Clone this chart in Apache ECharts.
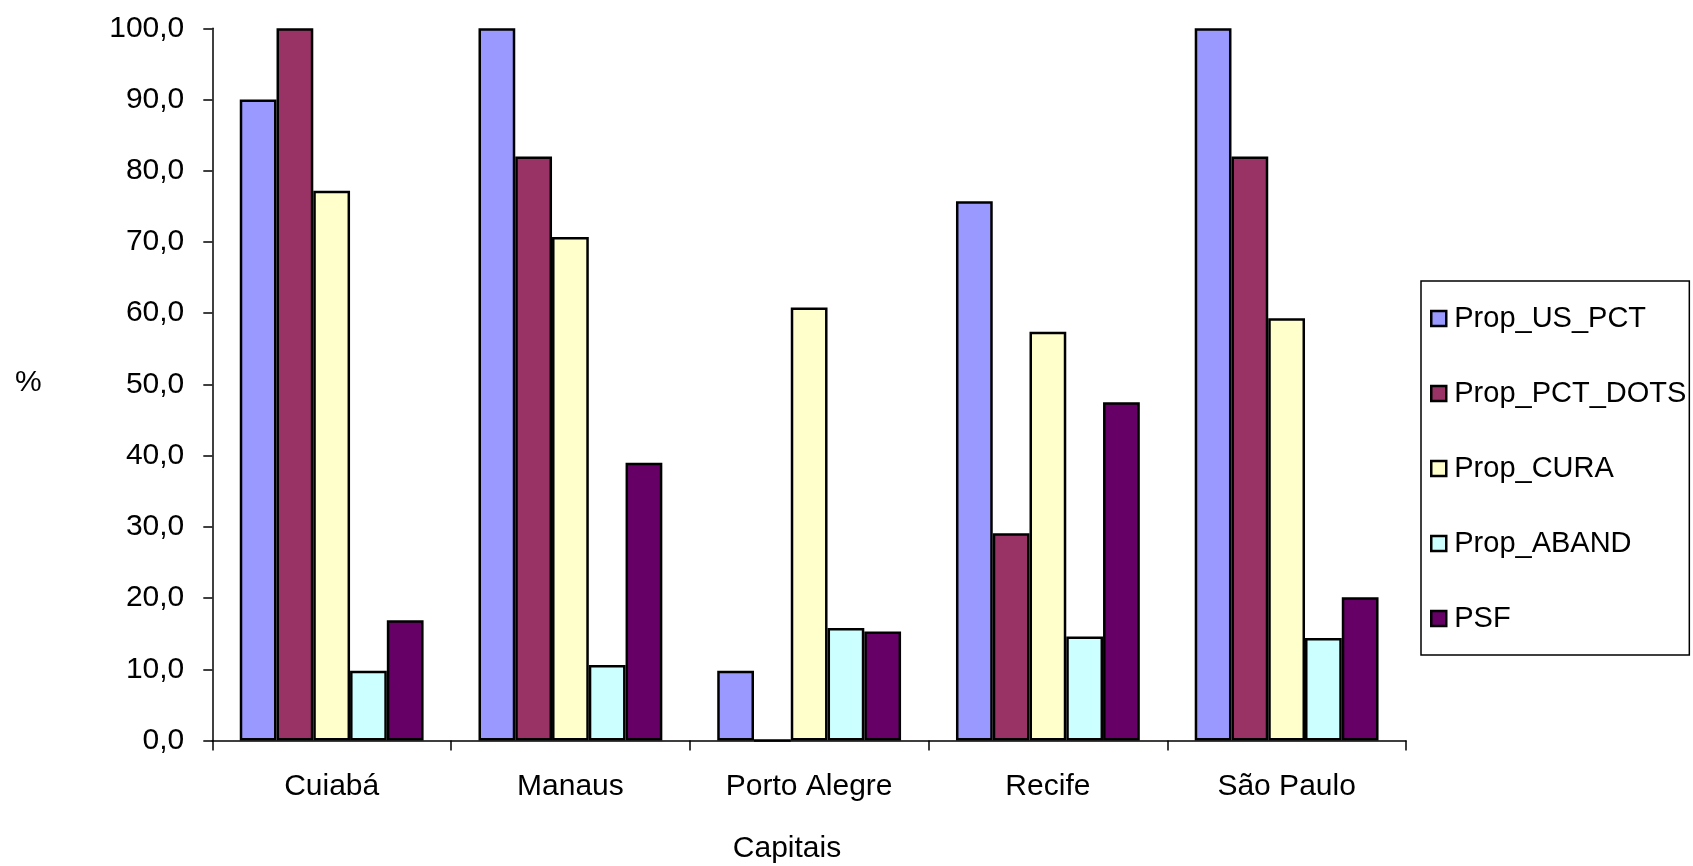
<!DOCTYPE html>
<html>
<head>
<meta charset="utf-8">
<script src="https://cdn.jsdelivr.net/npm/echarts@6/dist/echarts.min.js"></script>
<style>
  html, body { margin: 0; padding: 0; background: #fff; }
  #chart { width: 1693px; height: 866px; }
</style>
</head>
<body>
<div id="chart"></div>
<script>
const categories = ['Cuiabá', 'Manaus', 'Porto Alegre', 'Recife', 'São Paulo'];
const seriesNames = ['Prop_US_PCT', 'Prop_PCT_DOTS', 'Prop_CURA', 'Prop_ABAND', 'PSF'];
const propUsPct   = [90.0, 100.0, 9.8, 75.7, 100.0];
const propPctDots = [100.0, 82.0, 0.0, 29.1, 82.0];
const propCura    = [77.2, 70.7, 60.8, 57.4, 59.3];
const propAband   = [9.8, 10.6, 15.8, 14.6, 14.4];
const psf         = [16.9, 39.0, 15.3, 47.5, 20.1];
const colors = ['#9999FF', '#993366', '#FFFFCC', '#CCFFFF', '#660066'];
const seriesData = [propUsPct, propPctDots, propCura, propAband, psf];

const FONT = '"Liberation Sans", Arial, sans-serif';
const chart = echarts.init(document.getElementById('chart'), null, { renderer: 'canvas' });

chart.setOption({
  animation: false,
  backgroundColor: '#ffffff',
  grid: { left: 212.3, right: 287, top: 28.3, bottom: 125.5, containLabel: false },
  xAxis: {
    type: 'category',
    data: categories,
    axisLine: { show: true, lineStyle: { color: '#000', width: 1.5 } },
    axisTick: { show: true, length: 10, lineStyle: { color: '#000', width: 1.5 } },
    axisLabel: { color: '#000', fontSize: 30, fontFamily: FONT, margin: 31 },
    splitLine: { show: false }
  },
  yAxis: {
    type: 'value',
    min: 0, max: 100, interval: 10,
    axisLine: { show: true, lineStyle: { color: '#000', width: 1.5 } },
    axisTick: { show: true, length: 9, lineStyle: { color: '#000', width: 1.5 } },
    axisLabel: {
      color: '#000', fontSize: 30, fontFamily: FONT, margin: 28,
      formatter: v => v.toFixed(1).replace('.', ',')
    },
    splitLine: { show: false }
  },
  legend: {
    orient: 'vertical',
    left: 1421, top: 281,
    data: seriesNames,
    backgroundColor: '#fff',
    borderColor: '#000', borderWidth: 1.5,
    padding: [23, 3, 22, 9],
    itemGap: 46,
    itemWidth: 15, itemHeight: 15,
    icon: 'rect',
    itemStyle: { borderColor: '#000', borderWidth: 2.5 },
    textStyle: { color: '#000', fontSize: 29, lineHeight: 29, fontFamily: FONT, padding: [0, 0, 0, 3] }
  },
  graphic: [
    { type: 'text', left: 15, top: 368, style: { text: '%', fontSize: 30, fontFamily: FONT, fill: '#000' } },
    { type: 'text', x: 787, y: 849, style: { text: 'Capitais', fontSize: 30, fontFamily: FONT, fill: '#000', textAlign: 'center', textVerticalAlign: 'middle' } }
  ],
  series: seriesNames.map((name, i) => ({
    name: name,
    type: 'bar',
    data: seriesData[i],
    barGap: '0%',
    barCategoryGap: '23%',
    itemStyle: { color: colors[i], borderColor: '#000', borderWidth: 2.5 }
  }))
});
</script>
</body>
</html>
